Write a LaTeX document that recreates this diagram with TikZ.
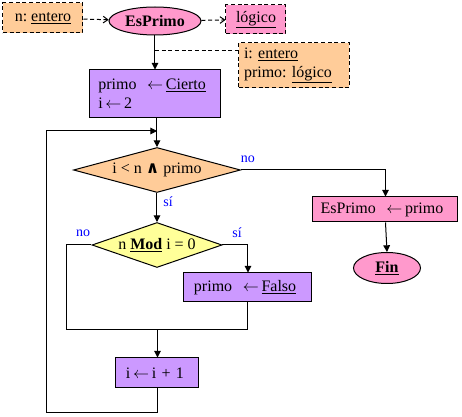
\documentclass[tikz,border=0pt]{standalone}
\usepackage{fontspec}
\setmainfont{Liberation Serif}
\newfontfamily\symfont{DejaVu Sans}
\usepackage{xcolor}
\usetikzlibrary{shapes.geometric, arrows.meta, positioning}

\definecolor{naranja}{HTML}{FFCC99}
\definecolor{rosa}{HTML}{FF99CC}
\definecolor{lila}{HTML}{CC99FF}
\definecolor{amarillo}{HTML}{FFFF99}
\definecolor{azul}{HTML}{0000FF}

\newcommand{\yy}{{\symfont\bfseries\fontsize{12.5}{14}\selectfont ∧}}
\frenchspacing

\begin{document}
\begin{tikzpicture}[
  x=0.75pt, y=-0.75pt,
  font=\fontsize{12}{14.5}\selectfont,
  line width=0.75pt,
  box/.style={rectangle, draw, inner ysep=1pt, align=center},
  datobox/.style={box, fill=naranja, dash pattern=on 3pt off 2pt},
  tipobox/.style={box, fill=rosa, dash pattern=on 3pt off 2pt},
  procbox/.style={box, fill=lila, align=left},
  salbox/.style={box, fill=rosa, align=left},
  oval/.style={ellipse, draw, fill=rosa, inner sep=0pt, font=\fontsize{12}{14.5}\selectfont\bfseries},
  condbox/.style={diamond, draw, inner sep=0pt},
  lbl/.style={text=azul, font=\fontsize{10.5}{12}\selectfont, inner sep=0pt},
  arr/.style={-{Triangle[length=5pt,width=5pt]}},
  darr/.style={-{Straight Barb[length=3.5pt,width=5pt]}, dash pattern=on 3pt off 2pt}
]
\useasboundingbox (0,0) rectangle (462,417);

%% -- cabecera: parametros y tipo ---------------------------------
\node[datobox, minimum width=60pt, minimum height=22.5pt] at (43,18) (nent) {n: \underline{entero}};
\node[oval, minimum width=69pt, minimum height=21pt] at (155,21) (esprimo) {EsPrimo};
\node[tipobox, minimum width=45pt, minimum height=21.75pt] at (256,19.5) (logico) {\underline{lógico}};
\node[datobox, align=left, text width=75pt, inner xsep=4pt, minimum height=33.75pt] at (294,65.5) (vars)
  {i: \underline{entero}\\primo: \underline{lógico}};

%% -- cuerpo ------------------------------------------------------------
\node[procbox, text width=85pt, inner xsep=6.6pt, minimum height=36pt] at (155,94) (init)
  {primo \ $\leftarrow$\,\underline{Cierto}\\i$\,\leftarrow$\,2};
\node[condbox, fill=naranja, aspect=3.7, minimum width=125.25pt, minimum height=33.75pt] at (157,170) (cond)
  {i < n \yy\ primo};
\node[condbox, fill=amarillo, aspect=2.9, minimum width=97.5pt, minimum height=33.75pt] at (157,245) (mod)
  {n \underline{\textbf{Mod}} i = 0};
\node[procbox, text width=81pt, inner xsep=7.5pt, minimum height=21.75pt] at (248,287.5) (falso)
  {primo \ $\leftarrow$\,\underline{Falso}};
\node[procbox, text width=47.25pt, inner xsep=7.5pt, minimum height=22.5pt] at (157.5,373) (inc)
  {i$\,\leftarrow$\,i + 1};
\node[salbox, text width=97.25pt, inner xsep=5.75pt, minimum height=18.75pt] at (385.5,209.5) (asig)
  {EsPrimo \ $\leftarrow$\,primo};
\node[oval, minimum width=50.25pt, minimum height=23.25pt] at (387,268) (fin) {\underline{Fin}};

%% -- etiquetas ---------------------------------------------------------
\node[lbl] at (248,159) (no1) {no};
\node[lbl] at (168,202) (si1) {sí};
\node[lbl] at (83,233)  (no2) {no};
\node[lbl] at (237,233) (si2) {sí};

%% -- puntos auxiliares -------------------------------------------------
\coordinate (vj)  at (155,51);
\coordinate (jl)  at (67,330);
\coordinate (lpb) at (47,413);
\coordinate (lpt) at (47,131);

%% -- conexiones ----------------------------------------------------------
\draw[darr] (nent) -- (esprimo);
\draw[darr] (esprimo) -- (logico);
\draw[dash pattern=on 3pt off 2pt] (vj) -- (vj -| vars.west);
\draw[arr] (esprimo.south) -- (init.north);
\draw[arr] (cond.north |- init.south) -- (cond.north);
\draw[arr] (cond.east) -| (asig.north);
\draw[arr] (asig.south) -- (fin.north);
\draw[arr] (cond.south) -- (mod.north);
\draw[arr] (mod.east) -| (falso.north);
\draw (mod.west) -| (jl) -- (jl -| falso.south) -- (falso.south);
\draw[arr] (jl -| inc.north) -- (inc.north);
% vuelta al bucle
\draw[arr] (inc.south) |- (lpb) -- (lpt) -- (lpt -| cond.north);

\end{tikzpicture}
\end{document}
